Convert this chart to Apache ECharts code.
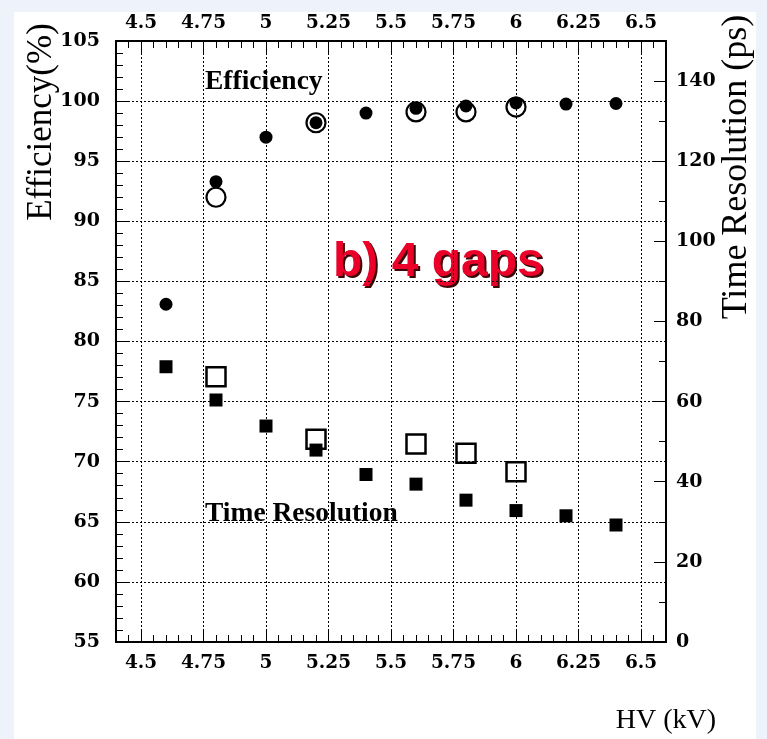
<!DOCTYPE html>
<html><head><meta charset="utf-8">
<script src="https://cdn.jsdelivr.net/npm/echarts@6/dist/echarts.min.js"></script>
<style>
html,body{margin:0;padding:0;background:#eef3fb;width:767px;height:739px;overflow:hidden;}
#panel{position:absolute;left:14px;top:12px;width:742px;height:727px;background:#fff;}
#c{position:absolute;left:0;top:0;width:767px;height:739px;}
</style>
</head><body><div id="panel"></div><div id="c"></div>
<script>
// ---- data ----
const hvFilled   = [4.6, 4.8, 5.0, 5.2, 5.4, 5.6, 5.8, 6.0, 6.2, 6.4];
const effFilled  = [83.1, 93.3, 97.0, 98.2, 99.0, 99.4, 99.6, 99.85, 99.75, 99.8];
const trFilled   = [68.7, 60.4, 53.9, 47.9, 41.8, 39.4, 35.4, 32.8, 31.5, 29.2];
const hvOpen     = [4.8, 5.2, 5.6, 5.8, 6.0];
const effOpen    = [92.0, 98.2, 99.1, 99.1, 99.5];
const trOpen     = [66.2, 50.6, 49.4, 47.1, 42.5];
const xMajor     = [4.5, 4.75, 5, 5.25, 5.5, 5.75, 6, 6.25, 6.5];
const yRightMajor = [0, 20, 40, 60, 80, 100, 120, 140];
const yRightMinor = [10, 30, 50, 70, 90, 110, 130, 150];
// minor tick positions (every 0.05 kV)
const xMinor = [];
for (let k = 88; k <= 132; k++) { const v = Math.round(k * 5) / 100; if (!xMajor.includes(v)) xMinor.push(v); }

const black = '#000';
const serif = '"Liberation Serif", "Times New Roman", serif';
const labSerif = '"DejaVu Serif", serif';

function xAx(pos, major) {
  return {
    type: 'value', position: pos, min: 4.4, max: 6.6,
    axisLine: { show: major, onZero: false, lineStyle: { color: black, width: 2 } },
    axisTick: { show: true, inside: true, length: major ? 12 : 7, customValues: major ? xMajor : xMinor, lineStyle: { color: black, width: 1 } },
    axisLabel: major ? { show: true, customValues: xMajor, color: black, fontFamily: labSerif, fontWeight: 'bold', fontSize: 18.5, margin: pos === 'bottom' ? 12 : 8 } : { show: false },
    splitLine: { show: major && pos === 'bottom', lineStyle: { color: black, width: 1, type: [2, 2] } }
  };
}

const chart = echarts.init(document.getElementById('c'), null, { renderer: 'canvas' });
chart.setOption({
  animation: false,
  grid: { left: 116, right: 101, top: 41, bottom: 97, containLabel: false },
  xAxis: [xAx('bottom', true), xAx('bottom', false), xAx('top', true), xAx('top', false)],
  yAxis: [
    { type: 'value', position: 'left', min: 55, max: 105, interval: 5,
      axisLine: { show: true, onZero: false, lineStyle: { color: black, width: 2 } },
      axisTick: { show: true, inside: true, length: 12, lineStyle: { color: black } },
      minorTick: { show: true, splitNumber: 5, length: 7, lineStyle: { color: black } },
      axisLabel: { color: black, fontFamily: labSerif, fontWeight: 'bold', fontSize: 19, margin: 16 },
      splitLine: { show: true, lineStyle: { color: black, width: 1, type: [2, 2] } } },
    { type: 'value', position: 'right', min: 0, max: 150, interval: 10,
      axisLine: { show: true, onZero: false, lineStyle: { color: black, width: 2 } },
      axisTick: { show: true, inside: true, length: 12, customValues: yRightMajor, lineStyle: { color: black } },
      axisLabel: { customValues: yRightMajor, color: black, fontFamily: labSerif, fontWeight: 'bold', fontSize: 19, margin: 10 },
      splitLine: { show: false } },
    { type: 'value', position: 'right', min: 0, max: 150, interval: 10,
      axisLine: { show: false },
      axisTick: { show: true, inside: true, length: 7, customValues: yRightMinor, lineStyle: { color: black } },
      axisLabel: { show: false }, splitLine: { show: false } }
  ],
  series: [
    { type: 'scatter', name: 'eff open', xAxisIndex: 0, yAxisIndex: 0, symbol: 'circle', symbolSize: 19,
      itemStyle: { color: 'rgba(0,0,0,0)', borderColor: black, borderWidth: 2.2, opacity: 1 },
      data: hvOpen.map((x, i) => [x, effOpen[i]]), silent: true },
    { type: 'scatter', name: 'tr open', xAxisIndex: 0, yAxisIndex: 1, symbol: 'rect', symbolSize: 19,
      itemStyle: { color: 'rgba(0,0,0,0)', borderColor: black, borderWidth: 2.5, opacity: 1 },
      data: hvOpen.map((x, i) => [x, trOpen[i]]), silent: true },
    { type: 'scatter', name: 'eff filled', xAxisIndex: 0, yAxisIndex: 0, symbol: 'circle', symbolSize: 13,
      itemStyle: { color: black, opacity: 1 }, data: hvFilled.map((x, i) => [x, effFilled[i]]), silent: true },
    { type: 'scatter', name: 'tr filled', xAxisIndex: 0, yAxisIndex: 1, symbol: 'rect', symbolSize: 13,
      itemStyle: { color: black, opacity: 1 }, data: hvFilled.map((x, i) => [x, trFilled[i]]), silent: true }
  ],
  graphic: [
    { type: 'text', x: 205, y: 82, style: { text: 'Efficiency', fill: black, font: 'bold 27.5px ' + serif, textAlign: 'left', textVerticalAlign: 'middle' } },
    { type: 'text', x: 205, y: 514, style: { text: 'Time Resolution', fill: black, font: 'bold 27.5px ' + serif, textAlign: 'left', textVerticalAlign: 'middle' } },
    { type: 'text', x: 335, y: 265, style: { text: 'b) 4 gaps', fill: '#3a0808', font: 'bold 48px "Liberation Sans", Arial, sans-serif', textAlign: 'left', textVerticalAlign: 'middle' } },
    { type: 'text', x: 333, y: 263, style: { text: 'b) 4 gaps', fill: '#ea0029', font: 'bold 48px "Liberation Sans", Arial, sans-serif', textAlign: 'left', textVerticalAlign: 'middle' } },
    { type: 'text', x: 42, y: 122, rotation: Math.PI / 2, style: { text: 'Efficiency(%)', fill: black, font: '35px ' + serif, textAlign: 'center', textVerticalAlign: 'middle' } },
    { type: 'text', x: 737, y: 167, rotation: Math.PI / 2, style: { text: 'Time Resolution (ps)', fill: black, font: '36px ' + serif, textAlign: 'center', textVerticalAlign: 'middle' } },
    { type: 'text', x: 716, y: 721, style: { text: 'HV (kV)', fill: black, font: '28px ' + serif, textAlign: 'right', textVerticalAlign: 'middle' } }
  ]
});
</script>
</body></html>
